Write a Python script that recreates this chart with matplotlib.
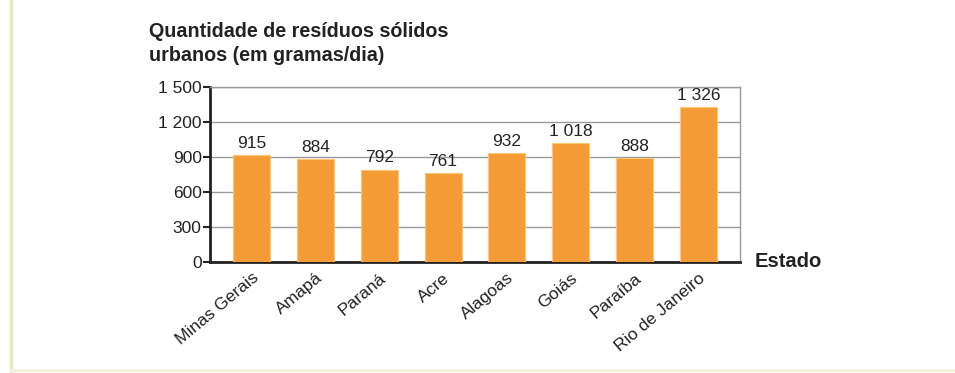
"""Bar chart: quantidade de residuos solidos urbanos por estado."""

import matplotlib
matplotlib.use("Agg")
import matplotlib.pyplot as plt
from matplotlib.lines import Line2D

estados = ["Minas Gerais", "Amapá", "Paraná", "Acre", "Alagoas", "Goiás", "Paraíba", "Rio de Janeiro"]
residuos = [915, 884, 792, 761, 932, 1018, 888, 1326]
y_ticks = [0, 300, 600, 900, 1200, 1500]


def fmt(v):
    # thousands separated by a space, as in the original
    return f"{v:,}".replace(",", " ")


def main():
    plt.rcParams['font.family'] = ['Liberation Sans', 'DejaVu Sans']
    fig = plt.figure(figsize=(9.55, 3.73), dpi=100)
    ax = fig.add_axes([0.2199, 0.2976, 0.555, 0.469])

    x = range(len(estados))
    bars = ax.bar(x, residuos, width=0.58, color='#F59B35', edgecolor='#FBC774', linewidth=0.8, zorder=3)
    for b, v in zip(bars, residuos):
        ax.annotate(fmt(v), (b.get_x() + b.get_width() / 2, v), xytext=(0, 3), textcoords='offset points',
                    ha='center', va='bottom', fontsize=12.5, color='#222222')

    ax.set_xlim(-0.65, 7.65)
    ax.set_ylim(0, 1500)
    ax.set_yticks(y_ticks)
    ax.set_yticklabels([fmt(t) for t in y_ticks], fontsize=12.5, color='#222222')
    ax.yaxis.grid(True, color='#9a9a9a', linewidth=1, zorder=0)
    ax.tick_params(axis='y', direction='out', length=5, width=1.5, color='#222222', pad=1)

    ax.set_xticks(list(x))
    ax.set_xticklabels(estados, rotation=40, ha='right', rotation_mode='anchor', fontsize=12.5, color='#222222')
    ax.tick_params(axis='x', length=0, pad=6)

    for s in ['left', 'bottom']:
        ax.spines[s].set_color('#222222')
        ax.spines[s].set_linewidth(2)
    ax.spines['top'].set_color('#9a9a9a')
    ax.spines['top'].set_linewidth(1)
    ax.spines['right'].set_color('#9a9a9a')
    ax.spines['right'].set_linewidth(1)

    fig.text(0.156, 0.883, "Quantidade de resíduos sólidos\nurbanos (em gramas/dia)", fontsize=14.2,
             fontweight='bold', color='#222222', va='center', ha='left', linespacing=1.35)
    fig.text(0.790, 0.298, "Estado", fontsize=14.5, fontweight='bold', color='#222222', va='center', ha='left')

    # faint page frame seen in the scan
    fig.add_artist(Line2D([0.011, 0.011], [0.0, 1.0], color='#E3EBC0', linewidth=2.5, transform=fig.transFigure))
    fig.add_artist(Line2D([0.011, 1.0], [0.008, 0.008], color='#F3F1D8', linewidth=2, transform=fig.transFigure))

    fig.savefig("out.png", dpi=100)


if __name__ == "__main__":
    main()
